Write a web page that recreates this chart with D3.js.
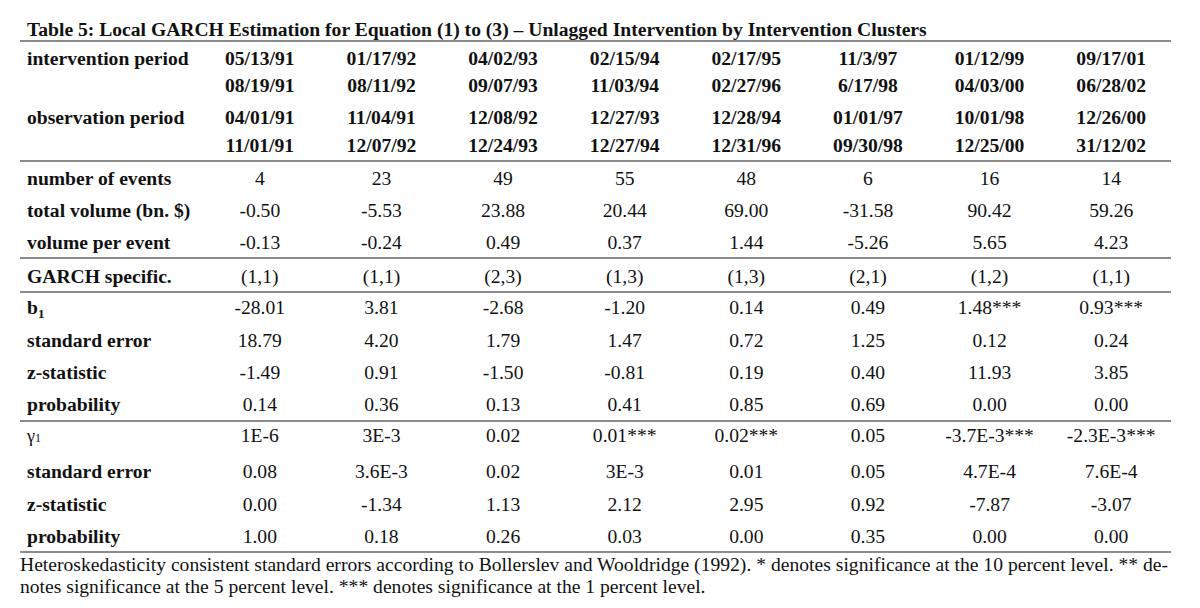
<!DOCTYPE html>
<html>
<head>
<meta charset="utf-8">
<script src="https://cdn.jsdelivr.net/npm/d3@7"></script>
<style>
  html, body { margin: 0; padding: 0; background: #fff; }
  svg { display: block; }
  text { font-family: "Liberation Serif", "Times New Roman", Times, serif; fill: #111; }
</style>
</head>
<body>
<svg id="chart" width="1200" height="608"></svg>
<script>
// ---------------- data ----------------
const title = "Table 5: Local GARCH Estimation for Equation (1) to (3) \u2013 Unlagged Intervention by Intervention Clusters";
const interventionStart = ["05/13/91","01/17/92","04/02/93","02/15/94","02/17/95","11/3/97","01/12/99","09/17/01"];
const interventionEnd   = ["08/19/91","08/11/92","09/07/93","11/03/94","02/27/96","6/17/98","04/03/00","06/28/02"];
const observationStart  = ["04/01/91","11/04/91","12/08/92","12/27/93","12/28/94","01/01/97","10/01/98","12/26/00"];
const observationEnd    = ["11/01/91","12/07/92","12/24/93","12/27/94","12/31/96","09/30/98","12/25/00","31/12/02"];
const numberOfEvents    = ["4","23","49","55","48","6","16","14"];
const totalVolume       = ["-0.50","-5.53","23.88","20.44","69.00","-31.58","90.42","59.26"];
const volumePerEvent    = ["-0.13","-0.24","0.49","0.37","1.44","-5.26","5.65","4.23"];
const garchSpec         = ["(1,1)","(1,1)","(2,3)","(1,3)","(1,3)","(2,1)","(1,2)","(1,1)"];
const b1Coef            = ["-28.01","3.81","-2.68","-1.20","0.14","0.49","1.48***","0.93***"];
const b1StdErr          = ["18.79","4.20","1.79","1.47","0.72","1.25","0.12","0.24"];
const b1ZStat           = ["-1.49","0.91","-1.50","-0.81","0.19","0.40","11.93","3.85"];
const b1Prob            = ["0.14","0.36","0.13","0.41","0.85","0.69","0.00","0.00"];
const g1Coef            = ["1E-6","3E-3","0.02","0.01***","0.02***","0.05","-3.7E-3***","-2.3E-3***"];
const g1StdErr          = ["0.08","3.6E-3","0.02","3E-3","0.01","0.05","4.7E-4","7.6E-4"];
const g1ZStat           = ["0.00","-1.34","1.13","2.12","2.95","0.92","-7.87","-3.07"];
const g1Prob            = ["1.00","0.18","0.26","0.03","0.00","0.35","0.00","0.00"];
const footnote1 = "Heteroskedasticity consistent standard errors according to Bollerslev and Wooldridge (1992). * denotes significance at the 10 percent level. ** de-";
const footnote2 = "notes significance at the 5 percent level. *** denotes significance at the 1 percent level.";

// ---------------- layout ----------------
const svg = d3.select("#chart");
svg.append("rect").attr("width", 1200).attr("height", 608).attr("fill", "#fff");

const fs = 19.6;
const left = 20, right = 1171, labelX = 27;
const col = d3.scaleBand().domain(interventionStart).range([199, 1172]);
const cx = i => col(interventionStart[i]) + col.bandwidth() / 2;

const rows = [
  {label: "intervention period", vals: interventionStart, y: 65, bold: true},
  {label: "", vals: interventionEnd, y: 92, bold: true},
  {label: "observation period", vals: observationStart, y: 124, bold: true},
  {label: "", vals: observationEnd, y: 152, bold: true},
  {label: "number of events", vals: numberOfEvents, y: 185},
  {label: "total volume (bn. $)", vals: totalVolume, y: 217},
  {label: "volume per event", vals: volumePerEvent, y: 249},
  {label: "GARCH specific.", vals: garchSpec, y: 283},
  {label: "b", sub: "1", vals: b1Coef, y: 314},
  {label: "standard error", vals: b1StdErr, y: 347},
  {label: "z-statistic", vals: b1ZStat, y: 379},
  {label: "probability", vals: b1Prob, y: 411},
  {label: "\u03b3", sub: "1", greek: true, vals: g1Coef, y: 442},
  {label: "standard error", vals: g1StdErr, y: 478},
  {label: "z-statistic", vals: g1ZStat, y: 511},
  {label: "probability", vals: g1Prob, y: 543}
];

const ruleYs = [41, 161, 258, 292, 421, 552];

// title
svg.append("text").attr("x", labelX).attr("y", 36)
  .attr("font-size", fs).attr("font-weight", "bold").text(title);

// rules
svg.selectAll("line.rule").data(ruleYs).join("line")
  .attr("class", "rule")
  .attr("x1", left).attr("x2", right)
  .attr("y1", d => d).attr("y2", d => d)
  .attr("stroke", "#8c8c8c").attr("stroke-width", 2);

// row labels
const lab = svg.selectAll("text.lab").data(rows.filter(r => r.label)).join("text")
  .attr("class", "lab")
  .attr("x", labelX).attr("y", d => d.y)
  .attr("font-size", d => d.greek ? 18 : fs)
  .attr("font-weight", d => d.greek ? "normal" : "bold");
lab.append("tspan").text(d => d.label);
lab.filter(d => d.sub).append("tspan")
  .attr("font-size", d => d.greek ? 12 : 13)
  .attr("dy", d => d.greek ? 0 : 4)
  .text(d => d.sub);

// values
rows.forEach(r => {
  svg.selectAll(null).data(r.vals).join("text")
    .attr("x", (d, i) => cx(i)).attr("y", r.y)
    .attr("text-anchor", "middle")
    .attr("font-size", fs)
    .attr("font-weight", r.bold ? "bold" : "normal")
    .text(d => d);
});

// footnote
svg.append("text").attr("x", left).attr("y", 571).attr("font-size", fs)
  .attr("textLength", 1148).attr("lengthAdjust", "spacing").text(footnote1);
svg.append("text").attr("x", left).attr("y", 593).attr("font-size", fs).text(footnote2);
</script>
</body>
</html>
